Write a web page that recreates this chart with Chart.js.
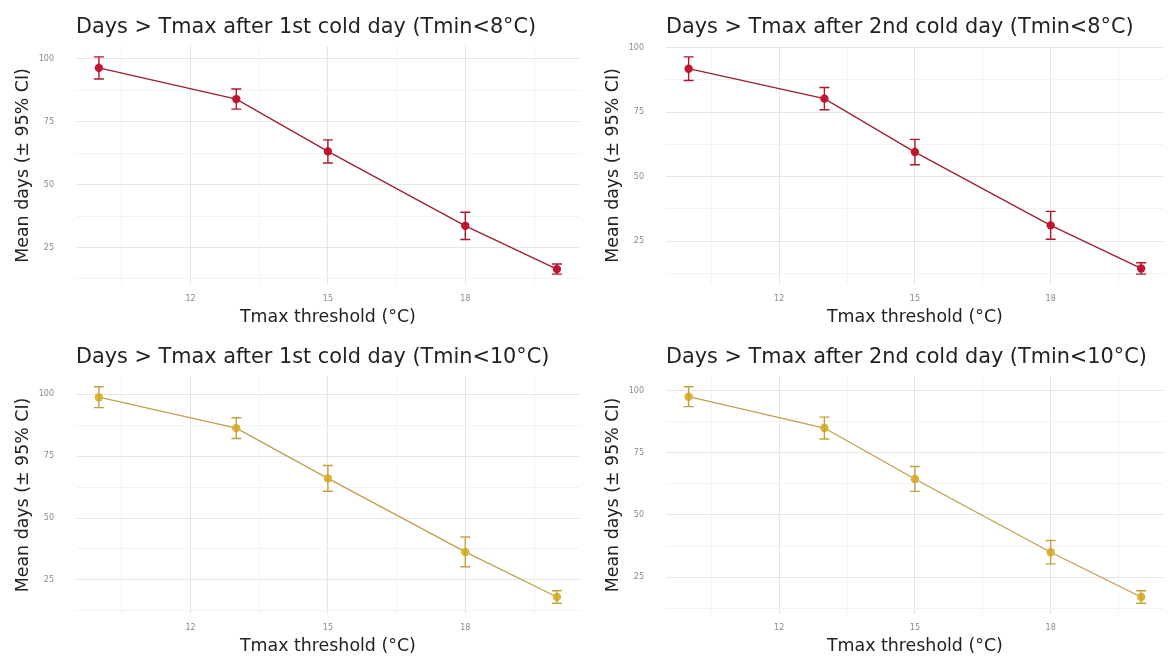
<!DOCTYPE html>
<html>
<head>
<meta charset="utf-8">
<script src="https://cdn.jsdelivr.net/npm/chart.js@4/dist/chart.umd.min.js"></script>
<style>
html,body{margin:0;padding:0;background:#fff;}
#wrap{position:relative;width:1168px;height:657px;overflow:hidden;}
.p{position:absolute;}
</style>
</head>
<body>
<div id="wrap">
  <div class="p" style="left:0;top:0;width:584px;height:328px"><canvas id="c0"></canvas></div>
  <div class="p" style="left:590px;top:0;width:578px;height:328px"><canvas id="c1"></canvas></div>
  <div class="p" style="left:0;top:330px;width:584px;height:327px"><canvas id="c2"></canvas></div>
  <div class="p" style="left:590px;top:330px;width:578px;height:327px"><canvas id="c3"></canvas></div>
</div>
<script>
// ---- data ----
const thresholds = [10, 13, 15, 18, 20];
const titles = [
  "Days > Tmax after 1st cold day (Tmin<8°C)",
  "Days > Tmax after 2nd cold day (Tmin<8°C)",
  "Days > Tmax after 1st cold day (Tmin<10°C)",
  "Days > Tmax after 2nd cold day (Tmin<10°C)"
];
const mean1st8  = [96.4, 84.0, 63.2, 33.6, 16.4];
const ci1st8    = [4.4, 4.0, 4.6, 5.4, 2.0];
const mean2nd8  = [91.8, 80.2, 59.5, 31.1, 14.4];
const ci2nd8    = [4.6, 4.3, 4.9, 5.4, 2.2];
const mean1st10 = [98.8, 86.3, 66.0, 36.3, 18.1];
const ci1st10   = [4.2, 4.2, 5.2, 6.0, 2.5];
const mean2nd10 = [97.6, 85.0, 64.5, 35.0, 17.0];
const ci2nd10   = [4.0, 4.4, 5.0, 4.7, 2.5];
const xMajorTicks = [12, 15, 18];
const xMinorTicks = [10.5, 13.5, 16.5, 19.5];
const yMajorTicks = [25, 50, 75, 100];
const yMinorTicks = [12.5, 37.5, 62.5, 87.5];
const xTitle = "Tmax threshold (°C)";
const yTitle = "Mean days (± 95% CI)";

const panels = [
  {id:"c0", title:titles[0], mean:mean1st8,  ci:ci1st8,  point:"#C8152F", line:"#9E1F30", bar:"#B0172C"},
  {id:"c1", title:titles[1], mean:mean2nd8,  ci:ci2nd8,  point:"#C8152F", line:"#9E1F30", bar:"#B0172C"},
  {id:"c2", title:titles[2], mean:mean1st10, ci:ci1st10, point:"#E0B232", line:"#BFA04E", bar:"#C4A23E"},
  {id:"c3", title:titles[3], mean:mean2nd10, ci:ci2nd10, point:"#E0B232", line:"#BFA04E", bar:"#C4A23E"}
];

const FONT = "'DejaVu Sans', 'Liberation Sans', sans-serif";

const errorBars = {
  id: 'errorBars',
  afterDatasetsDraw(chart) {
    const p = chart.options.plugins.errorBars;
    const meta = chart.getDatasetMeta(0);
    const y = chart.scales.y;
    const ctx = chart.ctx;
    ctx.save();
    ctx.strokeStyle = p.color;
    ctx.lineWidth = 1.4;
    meta.data.forEach((pt, i) => {
      const m = p.mean[i], c = p.ci[i];
      const yt = y.getPixelForValue(m + c), yb = y.getPixelForValue(m - c);
      const x = pt.x, w = 5;
      ctx.beginPath();
      ctx.moveTo(x, yt); ctx.lineTo(x, yb);
      ctx.moveTo(x - w, yt); ctx.lineTo(x + w, yt);
      ctx.moveTo(x - w, yb); ctx.lineTo(x + w, yb);
      ctx.stroke();
    });
    ctx.restore();
  }
};

panels.forEach(pn => {
  const lo = pn.mean.map((m, i) => m - pn.ci[i]);
  const hi = pn.mean.map((m, i) => m + pn.ci[i]);
  const dmin = Math.min(...lo), dmax = Math.max(...hi);
  const pad = (dmax - dmin) * 0.05;
  const yMin = dmin - pad, yMax = dmax + pad;
  const yTicks = [...yMinorTicks, ...yMajorTicks].filter(v => v >= yMin && v <= yMax).sort((a,b)=>a-b);
  const xTicks = [...xMinorTicks, ...xMajorTicks].sort((a,b)=>a-b);

  new Chart(document.getElementById(pn.id), {
    type: 'line',
    data: {
      datasets: [{
        data: thresholds.map((t, i) => ({x: t, y: pn.mean[i]})),
        borderColor: pn.line,
        borderWidth: 1.3,
        pointBackgroundColor: pn.point,
        pointBorderColor: pn.point,
        pointRadius: 4.2,
        pointBorderWidth: 0,
        tension: 0,
        fill: false
      }]
    },
    options: {
      responsive: true,
      maintainAspectRatio: false,
      animation: false,
      layout: {padding: {left: 0, right: 0, top: 0, bottom: 0}},
      plugins: {
        legend: {display: false},
        tooltip: {enabled: false},
        title: {
          display: true,
          text: pn.title,
          align: 'start',
          fullSize: false,
          color: '#222',
          font: {family: FONT, size: 20.8, weight: 'normal'},
          padding: {top: 15, bottom: 6}
        },
        errorBars: {mean: pn.mean, ci: pn.ci, color: pn.bar}
      },
      scales: {
        x: {
          type: 'linear',
          min: 9.5, max: 20.5,
          afterBuildTicks: s => { s.ticks = xTicks.map(v => ({value: v})); },
          afterFit: s => { s.height = 43; },
          border: {display: false},
          grid: {
            drawTicks: false,
            color: c => xMajorTicks.includes(c.tick && c.tick.value) ? '#e6e6e6' : '#f3f3f3',
            lineWidth: 1
          },
          ticks: {
            autoSkip: false, maxRotation: 0,
            padding: 9,
            color: '#8a8a8a',
            font: {family: FONT, size: 8},
            callback: v => xMajorTicks.includes(v) ? String(v) : ''
          },
          title: {
            display: true, text: xTitle, color: '#222',
            font: {family: FONT, size: 17.4},
            padding: {top: 0, bottom: 0}
          }
        },
        y: {
          type: 'linear',
          min: yMin, max: yMax,
          afterBuildTicks: s => { s.ticks = yTicks.map(v => ({value: v})); },
          afterFit: s => { s.width = 76; },
          border: {display: false},
          grid: {
            drawTicks: false,
            color: c => yMajorTicks.includes(c.tick && c.tick.value) ? '#e6e6e6' : '#f3f3f3',
            lineWidth: 1
          },
          ticks: {
            autoSkip: false,
            padding: 22,
            color: '#8a8a8a',
            font: {family: FONT, size: 8},
            callback: v => yMajorTicks.includes(v) ? String(v) : ''
          },
          title: {
            display: true, text: yTitle, color: '#222',
            font: {family: FONT, size: 17.4},
            padding: {top: 13, bottom: 0}
          }
        }
      }
    },
    plugins: [errorBars]
  });
});
</script>
</body>
</html>
